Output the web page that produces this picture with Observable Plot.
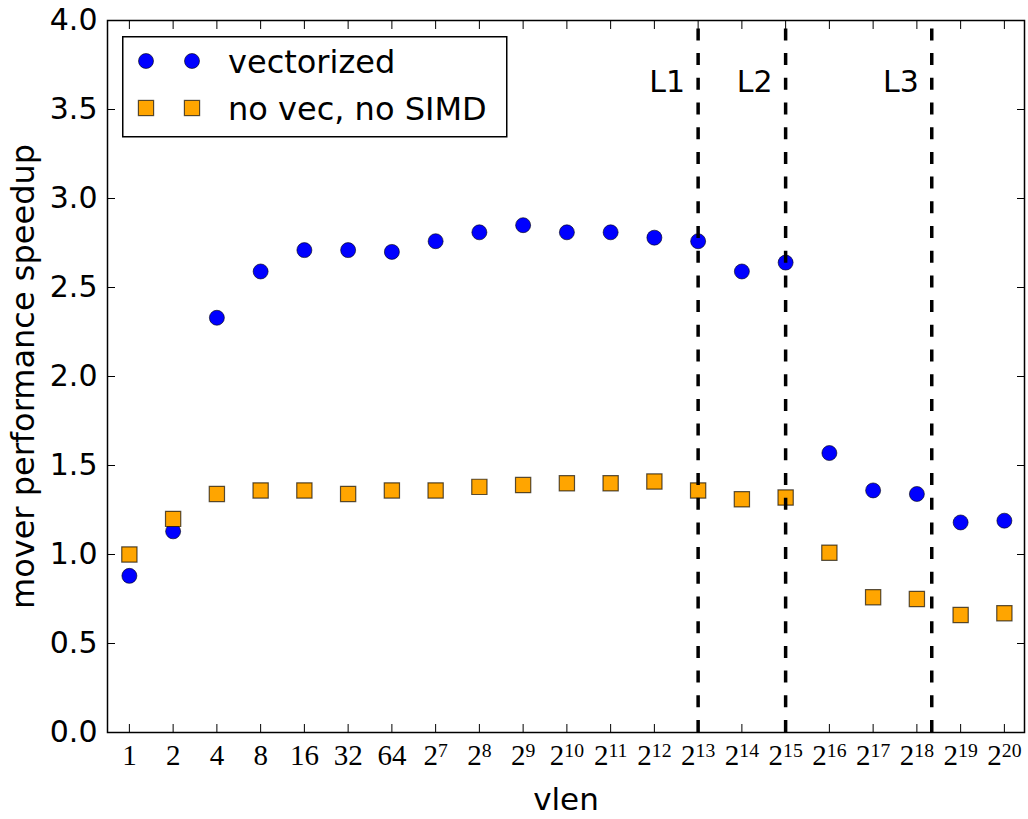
<!DOCTYPE html>
<html><head><meta charset="utf-8">
<script src="https://cdn.jsdelivr.net/npm/d3@7"></script>
<script src="https://cdn.jsdelivr.net/npm/@observablehq/plot@0.6"></script>
<style>
body{margin:0;background:#fff;}
#wrap{position:relative;width:1028px;height:819px;}
#legend{position:absolute;left:122px;top:36px;}
</style></head>
<body><div id="wrap"></div>
<script>
const vlenExp = [0,1,2,3,4,5,6,7,8,9,10,11,12,13,14,15,16,17,18,19,20];
const tickLabels = ["1","2","4","8","16","32","64","2^7","2^8","2^9","2^10","2^11","2^12","2^13","2^14","2^15","2^16","2^17","2^18","2^19","2^20"];
const vectorized = [0.88,1.13,2.33,2.59,2.71,2.71,2.70,2.76,2.81,2.85,2.81,2.81,2.78,2.76,2.59,2.64,1.57,1.36,1.34,1.18,1.19];
const noVec = [1.00,1.20,1.34,1.36,1.36,1.34,1.36,1.36,1.38,1.39,1.40,1.40,1.41,1.36,1.31,1.32,1.01,0.76,0.75,0.66,0.67];
const cacheNames = ["L1","L2","L3"];
const cacheExp = [13,15,18.34];
const yTicks = [0,0.5,1,1.5,2,2.5,3,3.5,4];
const seriesNames = ["vectorized","no vec, no SIMD"];

const rows = vlenExp.map((e,i)=>({e, vec: vectorized[i], nov: noVec[i]}));
const fmtX = d => tickLabels[vlenExp.indexOf(d)];

const svg = Plot.plot({
  width:1028, height:819,
  marginLeft:107, marginRight:4, marginTop:20, marginBottom:87,
  style:{fontFamily:"DejaVu Sans", fontSize:"30px", background:"#fff", color:"#000"},
  x:{domain:[-0.5,20.46], axis:null},
  y:{domain:[0,4], axis:null},
  marks:[
    Plot.dot(rows,{x:"e",y:"vec",r:7.5,fill:"#0000ff",stroke:"#000",strokeWidth:0.6}),
    Plot.dot(rows,{x:"e",y:"nov",symbol:"square",r:8.6,fill:"#ffa500",stroke:"#000",strokeOpacity:0.65,strokeWidth:1.2}),
    Plot.ruleX(cacheExp,{x:d=>d, y1:0, y2:4, stroke:"#000", strokeWidth:3.5, strokeDasharray:"12,12.7"}),
    Plot.text(cacheNames,{x:(d,i)=>cacheExp[i], y:3.65, text:d=>d, textAnchor:"end", dx:-13, fontSize:30}),
    Plot.axisX(vlenExp,{anchor:"bottom", tickSize:0, tickPadding:12, tickFormat:fmtX, fontFamily:"Liberation Serif", fontSize:29, label:null}),
    Plot.axisX(vlenExp,{anchor:"bottom", tickSize:8, dy:-8, tickFormat:()=>"", label:null}),
    Plot.axisX(vlenExp,{anchor:"top", tickSize:8, dy:8, tickFormat:()=>"", label:null}),
    Plot.axisY(yTicks,{anchor:"left", tickSize:0, tickPadding:10, tickFormat:d=>d.toFixed(1), fontSize:30, label:null}),
    Plot.axisY(yTicks,{anchor:"left", tickSize:8, dx:8, tickFormat:()=>"", label:null}),
    Plot.axisY(yTicks,{anchor:"right", tickSize:8, dx:-8, tickFormat:()=>"", label:null}),
    Plot.frame({stroke:"#000", strokeWidth:1.5}),
    Plot.text(["vlen"],{frameAnchor:"bottom", lineAnchor:"middle", textAnchor:"middle", dy:68, text:d=>d, fontSize:31}),
    Plot.text(["mover performance speedup"],{frameAnchor:"left", lineAnchor:"middle", textAnchor:"middle", dx:-84, rotate:-90, text:d=>d, fontSize:32})
  ]
});

d3.select(svg).selectAll('g[aria-label="x-axis tick label"] text').each(function(){
  const t = this.textContent;
  if (t.includes("^")) {
    const [b,e] = t.split("^");
    this.textContent = "";
    d3.select(this).append("tspan").text(b);
    d3.select(this).append("tspan").attr("dy","-0.42em").attr("font-size","68%").text(e);
  }
});

document.getElementById("wrap").appendChild(svg);

// legend
const lg = d3.select("#wrap").append("svg").attr("id","legend").attr("width",387).attr("height",103);
lg.append("rect").attr("x",0.75).attr("y",0.75).attr("width",384).attr("height",100).attr("fill","#fff").attr("stroke","#000").attr("stroke-width",1.5);
const rowsY = [25,72];
[24,70].forEach(cx => {
  lg.append("circle").attr("cx",cx).attr("cy",rowsY[0]).attr("r",7.5).attr("fill","#0000ff").attr("stroke","#000").attr("stroke-width",0.6);
  lg.append("rect").attr("x",cx-7.6).attr("y",rowsY[1]-7.6).attr("width",15.2).attr("height",15.2).attr("fill","#ffa500").attr("stroke","#000").attr("stroke-opacity",0.65).attr("stroke-width",1.2);
});
seriesNames.forEach((n,i) => {
  lg.append("text").attr("x",106).attr("y",rowsY[i]).attr("dy","0.36em").attr("font-family","DejaVu Sans").attr("font-size",32).text(n);
});
</script>
</body></html>
